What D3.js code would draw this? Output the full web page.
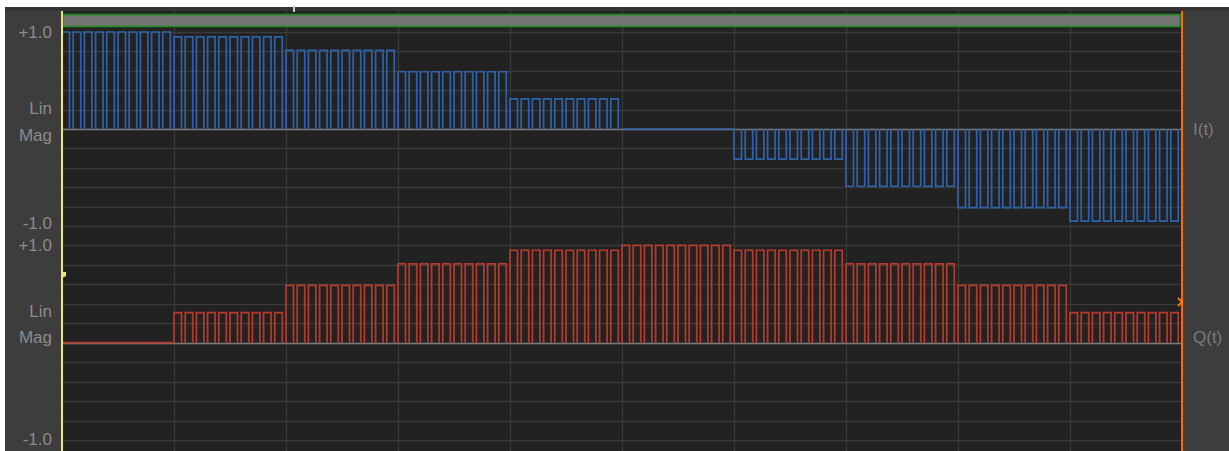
<!DOCTYPE html>
<html>
<head>
<meta charset="utf-8">
<script src="https://cdn.jsdelivr.net/npm/d3@7"></script>
<style>
  html, body { margin: 0; padding: 0; background: #ffffff; }
  svg { display: block; }
  text { font-family: "Liberation Sans", Arial, sans-serif; }
</style>
</head>
<body>
<div id="chart"></div>
<script>
// ---- data ----
const symbols = [0, 1, 2, 3, 4, 5, 6, 7, 8, 9];
const iLevels = [1.0, 0.95, 0.81, 0.59, 0.31, 0, -0.31, -0.59, -0.81, -0.95];
const qLevels = [0, 0.31, 0.59, 0.81, 0.95, 1.0, 0.95, 0.81, 0.59, 0.31];
const pulsesPerSymbol = 10;
const dutyCycle = 0.67;
const signalNames = ["I(t)", "Q(t)"];
const topTickLabel = "+1.0";
const bottomTickLabel = "-1.0";
const unitLabels = ["Lin", "Mag"];

// ---- layout ----
const W = 1229, H = 451;
const plotL = 62, plotR = 1182, plotT = 11, plotB = 451;

const svg = d3.select("#chart").append("svg").attr("width", W).attr("height", H);

// panel
svg.append("rect").attr("x", 5).attr("y", 7).attr("width", W - 5).attr("height", H - 7).attr("fill", "#3d3d3d");
svg.append("rect").attr("x", 5).attr("y", 7).attr("width", W - 5).attr("height", 4).attr("fill", "#333333");
svg.append("rect").attr("x", plotL).attr("y", plotT).attr("width", plotR - plotL).attr("height", plotB - plotT).attr("fill", "#222222");

const x = d3.scaleLinear().domain([0, symbols.length]).range([plotL, plotR]);
const yI = d3.scaleLinear().domain([-1, 1]).range([226, 32]);
const yQ = d3.scaleLinear().domain([-1, 1]).range([440, 245.4]);

const gridTicks = d3.range(-1, 1.0001, 0.2);

// horizontal grid
[yI, yQ].forEach(y => {
  svg.append("g").selectAll("line").data(gridTicks).join("line")
    .attr("x1", plotL).attr("x2", plotR)
    .attr("y1", d => Math.round(y(d)) + 0.5).attr("y2", d => Math.round(y(d)) + 0.5)
    .attr("stroke", "#3a3a3a").attr("stroke-width", 1.3);
});
// vertical grid
svg.append("g").selectAll("line").data(d3.range(1, symbols.length)).join("line")
  .attr("x1", d => Math.round(x(d)) + 0.5).attr("x2", d => Math.round(x(d)) + 0.5)
  .attr("y1", plotT).attr("y2", plotB)
  .attr("stroke", "#3a3a3a").attr("stroke-width", 1.3);

// zero lines
[yI, yQ].forEach(y => {
  svg.append("line").attr("x1", plotL).attr("x2", plotR)
    .attr("y1", Math.round(y(0)) + 0.5).attr("y2", Math.round(y(0)) + 0.5)
    .attr("stroke", "#7a7a7a").attr("stroke-width", 1.5);
});

// pulse train path: each pulse is drawn up/across/down; flat symbols drawn along zero
function pulsePath(levels, y) {
  const p = d3.path();
  levels.forEach((L, s) => {
    if (L === 0) {
      p.moveTo(x(s), y(0));
      p.lineTo(x(s + 1), y(0));
      return;
    }
    for (let k = 0; k < pulsesPerSymbol; k++) {
      const t0 = s + k / pulsesPerSymbol;
      const t1 = t0 + dutyCycle / pulsesPerSymbol;
      p.moveTo(x(t0), y(0));
      p.lineTo(x(t0), y(L));
      p.lineTo(x(t1), y(L));
      p.lineTo(x(t1), y(0));
    }
  });
  return p.toString();
}

svg.append("path").attr("d", pulsePath(iLevels, yI))
  .attr("fill", "none").attr("stroke", "#2e62aa").attr("stroke-width", 1.7);
svg.append("path").attr("d", pulsePath(qLevels, yQ))
  .attr("fill", "none").attr("stroke", "#b83a2c").attr("stroke-width", 1.7);

// top green bar
svg.append("rect").attr("x", plotL + 1).attr("y", 14.5).attr("width", 1180 - plotL - 1).attr("height", 12)
  .attr("fill", "#737373").attr("stroke", "#1e8c1e").attr("stroke-width", 1.6);
// small top marker
svg.append("rect").attr("x", 293).attr("y", 6).attr("width", 2).attr("height", 6).attr("fill", "#cccccc");

// yellow left cursor
svg.append("line").attr("x1", plotL).attr("x2", plotL).attr("y1", plotT).attr("y2", plotB)
  .attr("stroke", "#ece57a").attr("stroke-width", 2);
svg.append("path").attr("d", `M${plotL},272 L${plotL + 4},272 L${plotL + 4},276 L${plotL},278 Z`).attr("fill", "#ece57a");
// orange right cursor
svg.append("line").attr("x1", plotR).attr("x2", plotR).attr("y1", plotT).attr("y2", plotB)
  .attr("stroke", "#ff6a00").attr("stroke-width", 2);
svg.append("path").attr("d", `M${plotR - 4},298 L${plotR},302 L${plotR - 4},306`)
  .attr("fill", "none").attr("stroke", "#ff7a10").attr("stroke-width", 1.8);

// left labels
const labelColor = "#8c8c8c";
const leftLabels = [
  { t: topTickLabel, y: 38 }, { t: unitLabels[0], y: 114 }, { t: unitLabels[1], y: 141 }, { t: bottomTickLabel, y: 229 },
  { t: topTickLabel, y: 251 }, { t: unitLabels[0], y: 317 }, { t: unitLabels[1], y: 343 }, { t: bottomTickLabel, y: 445 }
];
svg.append("g").selectAll("text").data(leftLabels).join("text")
  .attr("x", 52).attr("y", d => d.y).attr("text-anchor", "end")
  .attr("font-size", 17).attr("fill", labelColor).text(d => d.t);

// right labels
svg.append("text").attr("x", 1193).attr("y", 135).attr("font-size", 17).attr("fill", "#7c7c7c").text(signalNames[0]);
svg.append("text").attr("x", 1193).attr("y", 343).attr("font-size", 17).attr("fill", "#7c7c7c").text(signalNames[1]);
</script>
</body>
</html>
